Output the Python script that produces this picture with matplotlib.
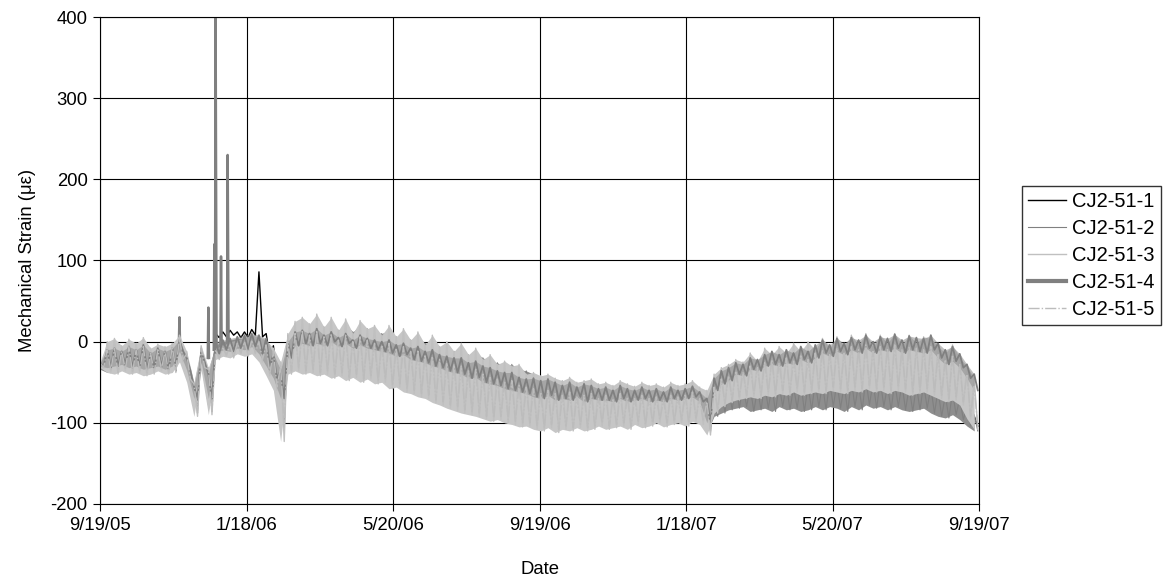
import numpy as np
import matplotlib
matplotlib.use("Agg")
from matplotlib import pyplot as plt

plt.rcParams['font.family'] = ['Liberation Sans', 'DejaVu Sans']
plt.rcParams['axes.unicode_minus'] = False

# days since 9/19/05; daily high and low readings every 6 days
days = np.arange(0, 727, 6)
span = 730
date_labels = ["9/19/05", "1/18/06", "5/20/06", "9/19/06", "1/18/07", "5/20/07", "9/19/07"]
names = ["CJ2-51-1", "CJ2-51-2", "CJ2-51-3", "CJ2-51-4", "CJ2-51-5"]

s1_hi = [-28, -12, -15, -14, -10, -16, -12, -18, -14, -16,
         -14, 0, -25, -60, -10, -38, 10, 12, 14, 12,
         12, 15, 86, 10, -5, -40, 0, 12, 15, 10,
         14, 8, 12, 5, 10, 2, 8, 4, 0, -2,
         -2, -8, -6, -12, -10, -16, -18, -22, -24, -28,
         -28, -34, -32, -38, -42, -44, -48, -46, -52, -54,
         -56, -60, -58, -62, -64, -60, -66, -64, -62, -68,
         -64, -68, -62, -66, -68, -64, -68, -66, -70, -64,
         -66, -64, -60, -68, -72, -62, -58, -56, -54, -56,
         -58, -60, -54, -58, -56, -54, -58, -52, -56, -52,
         -54, -50, -52, -56, -50, -54, -48, -52, -50, -56,
         -52, -54, -58, -56, -54, -58, -62, -68, -64, -72,
         -82, -92]
s1_lo = [-34, -38, -34, -32, -36, -34, -38, -36, -32, -36,
         -36, -24, -48, -72, -30, -72, 5, 6, 8, 5,
         5, 8, 6, -20, -45, -60, -12, -8, -10, -12,
         -15, -18, -14, -20, -18, -22, -20, -24, -26, -28,
         -30, -32, -34, -38, -40, -44, -46, -50, -52, -56,
         -58, -62, -64, -68, -70, -72, -76, -78, -80, -80,
         -82, -84, -80, -86, -84, -84, -82, -86, -84, -80,
         -84, -82, -80, -84, -80, -82, -84, -80, -82, -78,
         -80, -82, -78, -84, -105, -80, -76, -72, -70, -72,
         -76, -74, -72, -78, -70, -74, -72, -76, -74, -70,
         -76, -72, -74, -78, -72, -76, -70, -74, -72, -76,
         -74, -78, -80, -78, -76, -82, -86, -88, -84, -90,
         -98, -104]

s2_hi = [-28, -8, -5, -10, -4, -8, -2, -12, -6, -10,
         -4, 5, -15, -52, -8, -35, -4, 0, 2, 4,
         4, 6, 4, 0, -10, -30, 8, 22, 26, 20,
         28, 18, 24, 14, 22, 12, 20, 16, 12, 10,
         14, 6, 10, 2, 6, -2, 0, -6, -8, -12,
         -10, -16, -14, -20, -24, -26, -30, -28, -34, -36,
         -40, -44, -42, -46, -50, -46, -52, -50, -48, -54,
         -52, -56, -50, -54, -56, -52, -56, -54, -58, -52,
         -56, -54, -50, -58, -62, -58, -54, -56, -52, -54,
         -56, -58, -52, -56, -54, -52, -56, -50, -54, -50,
         -52, -48, -50, -54, -48, -52, -46, -50, -48, -54,
         -50, -52, -56, -54, -52, -56, -60, -66, -62, -70,
         -80, -90]
s2_lo = [-34, -38, -36, -34, -38, -36, -40, -38, -34, -38,
         -34, -20, -45, -85, -30, -85, -18, -14, -16, -12,
         -14, -12, -20, -38, -55, -110, -35, -30, -34, -32,
         -36, -34, -40, -38, -42, -40, -45, -42, -46, -45,
         -52, -52, -56, -58, -62, -64, -70, -72, -76, -80,
         -84, -86, -88, -92, -94, -92, -96, -98, -102, -100,
         -104, -106, -102, -108, -104, -106, -102, -106, -104, -100,
         -104, -102, -100, -104, -98, -102, -100, -96, -100, -98,
         -96, -100, -94, -98, -112, -92, -88, -84, -82, -80,
         -86, -84, -82, -86, -80, -84, -82, -86, -84, -80,
         -84, -80, -82, -86, -80, -84, -78, -82, -80, -84,
         -80, -84, -86, -84, -82, -88, -92, -94, -90, -96,
         -104, -110]

# short-lived readings of CJ2-51-2 (Nov 05 - Jan 06), NaN = gap between events
nan = float("nan")
s2_spike_days = [65.5, 66, 66.5, nan, 89.5, 90, 90.5, nan, 94.5, 95, 95.5, 96, 96.8, nan,
                 100, 100.5, 101, nan, 105.5, 106, 106.8]
s2_spike_vals = [-2, 30, -5, nan, -20, 42, -20, nan, -10, 120, -5, 400, -8, nan,
                 -5, 105, -5, nan, -5, 230, -8]

s3_hi = [-25, 0, 4, -5, 3, -2, 5, -8, -3, -6,
         -2, 8, -12, -50, -5, -32, -8, -5, 0, 2,
         5, 8, 6, 2, -8, -25, 10, 25, 30, 22,
         34, 18, 30, 14, 28, 10, 26, 16, 20, 8,
         20, 6, 16, 2, 12, -4, 8, -6, 0, -12,
         -2, -16, -8, -22, -16, -28, -24, -30, -28, -40,
         -38, -42, -40, -45, -48, -44, -50, -48, -46, -52,
         -50, -54, -48, -52, -55, -50, -54, -52, -56, -50,
         -54, -52, -48, -56, -60, -40, -32, -28, -22, -25,
         -14, -24, -8, -16, -6, -14, -2, -12, 0, -10,
         4, -8, 6, -6, 8, -4, 10, -6, 8, -2,
         10, -4, 8, -2, 6, 4, -6, -14, -4, -20,
         -30, -45]
s3_lo = [-32, -38, -40, -36, -40, -38, -42, -40, -36, -40,
         -38, -25, -50, -92, -35, -90, -22, -18, -20, -15,
         -18, -15, -25, -42, -60, -123, -40, -36, -40, -38,
         -42, -40, -45, -42, -48, -44, -50, -46, -52, -50,
         -58, -56, -62, -64, -68, -70, -75, -78, -82, -85,
         -88, -90, -92, -95, -98, -96, -100, -102, -105, -104,
         -108, -110, -106, -112, -108, -110, -106, -110, -108, -104,
         -108, -106, -104, -108, -102, -106, -104, -100, -105, -102,
         -100, -104, -98, -102, -115, -88, -80, -75, -72, -70,
         -68, -70, -66, -68, -64, -66, -62, -66, -64, -62,
         -64, -60, -62, -64, -60, -62, -58, -62, -60, -64,
         -60, -62, -66, -64, -62, -66, -70, -74, -72, -78,
         -95, -108]

s4_hi = [-26, -10, -8, -12, -6, -10, -4, -14, -8, -12,
         -8, 2, -20, -55, -12, -40, 0, 2, 4, 6,
         8, 10, 8, 4, -15, -35, 0, 12, 14, 10,
         16, 8, 12, 5, 10, 2, 8, 4, 2, 0,
         2, -4, -2, -8, -6, -12, -10, -16, -18, -20,
         -20, -26, -24, -30, -32, -36, -38, -38, -44, -46,
         -45, -48, -46, -50, -54, -50, -56, -52, -54, -58,
         -56, -60, -54, -58, -60, -56, -60, -58, -62, -56,
         -60, -58, -55, -62, -70, -45, -36, -32, -26, -28,
         -20, -22, -16, -12, -16, -10, -14, -6, -12, -4,
         2, -4, 4, -2, 5, 2, 8, 0, 6, 4,
         9, 2, 7, 5, 4, 8, -2, -10, -6, -15,
         -28, -40]
s4_lo = [-30, -32, -30, -28, -32, -30, -34, -32, -30, -34,
         -30, -12, -35, -70, -25, -70, -15, -10, -12, -8,
         -10, -6, -15, -30, -45, -70, -20, -5, -2, -5,
         -2, -5, 0, -6, -2, -8, -4, -8, -10, -12,
         -14, -18, -16, -22, -24, -26, -30, -32, -36, -38,
         -40, -45, -44, -50, -52, -54, -58, -60, -62, -64,
         -68, -70, -66, -72, -70, -72, -68, -74, -70, -72,
         -72, -74, -70, -74, -72, -70, -74, -72, -74, -70,
         -72, -70, -68, -74, -100, -60, -52, -48, -40, -42,
         -34, -36, -30, -28, -30, -26, -28, -22, -26, -20,
         -14, -18, -12, -16, -10, -14, -8, -14, -10, -12,
         -8, -14, -10, -12, -14, -10, -20, -28, -24, -32,
         -45, -60]

s5_hi = [-26, -10, -8, -12, -6, -10, -6, -14, -10, -12,
         -6, 4, -15, -52, -8, -34, -10, -8, -4, -2,
         0, 2, 0, -4, -12, -30, 0, 10, 14, 8,
         14, 6, 10, 2, 8, 0, 6, 2, -2, -4,
         -2, -8, -6, -12, -10, -16, -18, -22, -26, -28,
         -30, -36, -34, -40, -44, -46, -50, -48, -54, -56,
         -58, -62, -60, -64, -66, -62, -68, -66, -64, -70,
         -66, -70, -64, -68, -70, -66, -70, -68, -72, -66,
         -68, -66, -62, -70, -74, -56, -46, -42, -36, -38,
         -30, -32, -26, -22, -26, -20, -24, -16, -22, -14,
         -10, -16, -8, -14, -6, -10, -4, -12, -6, -8,
         -4, -10, -6, -8, -10, -6, -16, -22, -18, -28,
         -40, -55]
s5_lo = [-32, -36, -38, -34, -38, -36, -40, -38, -34, -38,
         -34, -22, -46, -88, -32, -86, -20, -16, -18, -14,
         -16, -14, -22, -40, -56, -105, -36, -32, -36, -34,
         -38, -36, -40, -38, -44, -40, -46, -42, -48, -46,
         -54, -52, -58, -60, -64, -66, -72, -74, -78, -80,
         -84, -86, -88, -92, -94, -92, -96, -98, -100, -100,
         -104, -106, -102, -108, -104, -106, -102, -106, -104, -100,
         -104, -102, -100, -104, -98, -102, -100, -96, -100, -98,
         -96, -100, -94, -98, -110, -84, -76, -72, -68, -66,
         -64, -66, -62, -64, -60, -62, -58, -62, -60, -58,
         -60, -56, -58, -60, -56, -58, -54, -58, -56, -60,
         -56, -58, -62, -60, -58, -62, -66, -70, -68, -74,
         -92, -105]


def zigzag(hi, lo):
    # high reading at the sample day, low reading half a step later
    x = np.column_stack([days, days + 3]).ravel()
    y = np.column_stack([hi, lo]).ravel()
    return x, y


fig = plt.figure(figsize=(11.69, 5.84), dpi=100)
ax = fig.add_axes([100 / 1169, 1 - 504 / 584, 879 / 1169, 487 / 584])

x, y = zigzag(s1_hi, s1_lo)
ax.plot(x, y, color="black", lw=1.0, label=names[0], zorder=2)

ax.fill_between(days, s2_lo, s2_hi, color="#8e8e8e", lw=0, zorder=3)
x, y = zigzag(s2_hi, s2_lo)
ax.plot(x, y, color="#808080", lw=0.8, label=names[1], zorder=3.1)
ax.plot(s2_spike_days, s2_spike_vals, color="#808080", lw=1.8, zorder=3.2)

ax.fill_between(days, s3_lo, s3_hi, color="#c6c6c6", lw=0, zorder=4)
x, y = zigzag(s3_hi, s3_lo)
ax.plot(x, y, color="#c0c0c0", lw=1.0, label=names[2], zorder=4.1)

ax.fill_between(days, s4_lo, s4_hi, color="#8c8c8c", alpha=0.55, lw=0, zorder=5)
x, y = zigzag(s4_hi, s4_lo)
ax.plot(x, y, color="#808080", lw=1.3, label=names[3], zorder=5.1)

x, y = zigzag(s5_hi, s5_lo)
ax.plot(x, y, color="#bcbcbc", lw=1.0, ls=(0, (8, 1.5, 1, 1.5)), label=names[4], zorder=6)

ax.set_xlim(0, span)
ax.set_ylim(-200, 400)
ax.set_xticks(np.arange(len(date_labels)) * span / (len(date_labels) - 1))
ax.set_xticklabels(date_labels)
ax.set_yticks(np.arange(-200, 401, 100))
ax.grid(True, color="black", lw=0.8)
ax.set_axisbelow(True)
for sp in ax.spines.values():
    sp.set_color("black")
    sp.set_linewidth(0.8)
    sp.set_zorder(7)
ax.tick_params(direction="out", length=5, width=0.8, labelsize=13.3, pad=4)

ax.set_ylabel("Mechanical Strain (με)", fontsize=13.3, labelpad=10)
ax.set_xlabel("Date", fontsize=13.3, labelpad=20)

leg = fig.legend(loc="upper left", bbox_to_anchor=(1022 / 1169, 1 - 186 / 584),
                 fontsize=14.5, frameon=True, fancybox=False, edgecolor="black",
                 handlelength=1.9, handletextpad=0.3, borderpad=0.3,
                 labelspacing=0.4, borderaxespad=0)
leg.get_lines()[3].set_linewidth(3)

fig.savefig("out.png", dpi=100)
